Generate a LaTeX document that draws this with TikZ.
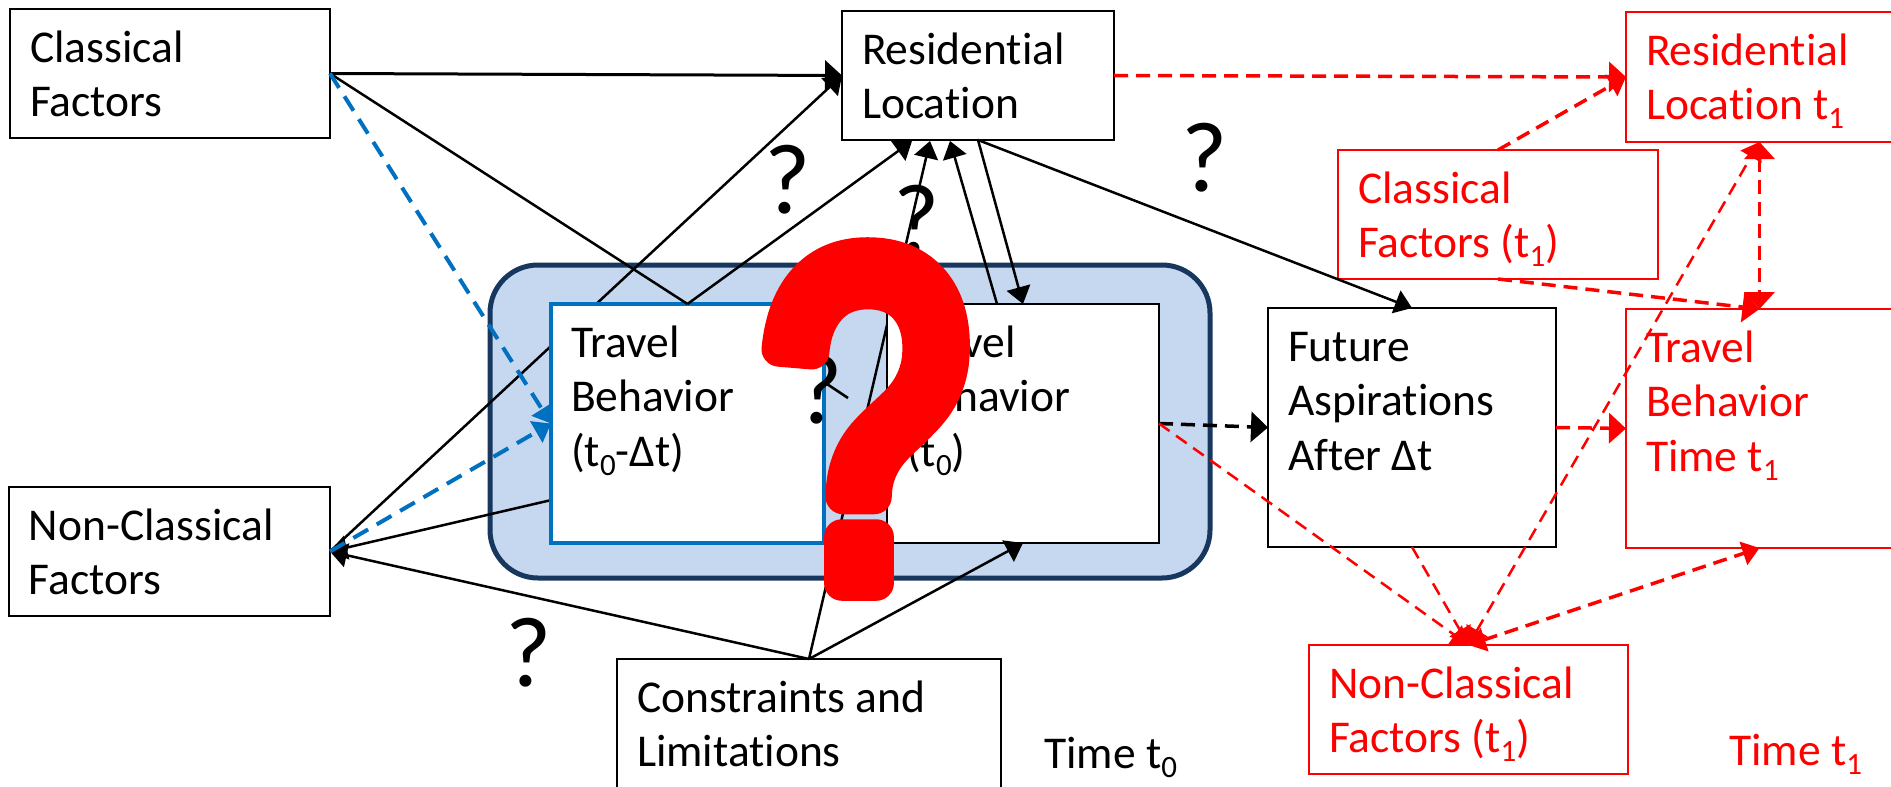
\documentclass[tikz,border=0pt]{standalone}
\usepackage{fontspec}
\setmainfont[Ligatures=NoCommon]{Carlito}
\newfontfamily\bigqfont[FakeBold=7.5,FakeStretch=0.77]{Liberation Sans}
\usetikzlibrary{arrows.meta}
\definecolor{panelfill}{HTML}{C5D8F0}
\definecolor{paneledge}{HTML}{17375E}
\definecolor{oldblue}{HTML}{0070C0}
\newcommand{\tsub}[1]{\raisebox{-9pt}{\fontsize{31}{31}\selectfont #1}}
\newcommand{\boxtext}[3]{\parbox[c][#2pt][t]{#1pt}{\fontsize{45.5}{54.5}\selectfont\raggedright\leftskip=20pt\vspace*{15pt}\strut #3}}
\tikzset{
  boxblack/.style={draw=black,fill=white,line width=2pt,inner sep=0pt,outer sep=0pt,anchor=north west},
  boxblue/.style={boxblack,draw=oldblue,line width=4pt},
  boxred/.style={boxblack,draw=red,text=red,line width=2.5pt},
  timelabel/.style={inner sep=0pt,anchor=base west,font=\fontsize{45.5}{54.5}\selectfont},
  query/.style={inner sep=0pt,font=\fontsize{100}{100}\selectfont},
  solid1/.style={line width=2.5pt},
  dash1/.style={line width=2.5pt,dash pattern=on 13pt off 8pt},
  dash2/.style={line width=3.5pt,dash pattern=on 14pt off 8pt},
  dash3/.style={line width=4pt,dash pattern=on 17pt off 10pt},
  bigtip/.style={>={Triangle[length=17pt,width=30pt]}},
}
\begin{document}
\begin{tikzpicture}[x=1pt,y=-1pt,>={Triangle[length=17pt,width=24pt]}]
\useasboundingbox (0,0) rectangle (1891,787);
\node[draw=paneledge,fill=panelfill,line width=5pt,rounded corners=48pt,minimum width=720pt,minimum height=313pt,inner sep=0pt,outer sep=0pt] (panel) at (850,421.5) {};
\coordinate (resA) at (912,141);
\coordinate (resB) at (930,141);
\coordinate (resC) at (950,141);
\coordinate (nowTop) at (997,304);
\coordinate (prevMid) at (848,398);
\coordinate (prevOut) at (560,498);
\coordinate (prevIn) at (824,382);
\node[boxblack] (residential) at (842,11) {\boxtext{272}{129}{Residential\\Location}};
\node[boxblack] (nonclassical) at (9,487) {\boxtext{321}{129}{Non-Classical\\Factors}};
\node[boxblack] (constraints) at (617,659) {\boxtext{384}{142}{Constraints and\\Limitations}};
\draw[solid1,->] (nonclassical.east) -- (residential.west);
\draw[solid1,->] (constraints.north) -- (resB);
\draw[solid1,->] (prevOut) -- (nonclassical.east);
\draw[solid1] (prevIn) -- (prevMid);
\node[boxblack] (classical) at (10,9) {\boxtext{320}{129}{Classical\\Factors}};
\node[boxblue] (travelold) at (551,304) {\boxtext{273}{239}{Travel\\Behavior\\(t\tsub{0}-Δt)}};
\node[boxblack] (travelnow) at (887,304) {\boxtext{272}{239}{Travel\\Behavior\\(t\tsub{0})}};
\node[boxblack] (future) at (1268,308) {\boxtext{288}{239}{Future\\Aspirations\\After Δt}};
\node[boxred] (resnext) at (1626,12) {\boxtext{267}{130}{Residential\\Location t\tsub{1}}};
\node[boxred] (classnext) at (1338,150) {\boxtext{320}{129}{Classical\\Factors (t\tsub{1})}};
\node[boxred] (travelnext) at (1626,309) {\boxtext{267}{239}{Travel\\Behavior\\Time t\tsub{1}}};
\node[boxred] (nonnext) at (1309,645) {\boxtext{319}{129}{Non-Classical\\Factors (t\tsub{1})}};
\draw[line width=3pt,bigtip,->] (classical.east) -- (residential.west);
\draw[solid1] (classical.east) -- (travelold.north);
\draw[solid1,->] (travelold.north) -- (resA);
\draw[solid1,->] (nowTop) -- (resC);
\draw[solid1,->] (residential.south) -- (travelnow.north);
\draw[solid1,->] (residential.south) -- (future.north);
\draw[solid1,->] (constraints.north) -- (nonclassical.east);
\draw[solid1,->] (constraints.north) -- (travelnow.south);
\draw[oldblue,dash3,->] (classical.east) -- (travelold.west);
\draw[oldblue,dash3,->] (nonclassical.east) -- (travelold.west);
\draw[dash2,bigtip,->] (travelnow.east) -- (future.west);
\draw[red,dash2,bigtip,->] (residential.east) -- (resnext.west);
\draw[red,dash2,->] (classnext.north) -- (resnext.west);
\draw[red,dash2,bigtip,->] (classnext.south) -- (travelnext.north);
\draw[red,dash2,bigtip,<->] (resnext.south) -- (travelnext.north);
\draw[red,dash2,bigtip,->] (future.east) -- (travelnext.west);
\draw[red,dash1,->] (travelnow.east) -- (nonnext.north);
\draw[red,dash1,->] (future.south) -- (nonnext.north);
\draw[red,dash1,<->] (nonnext.north) -- (resnext.south);
\draw[red,dash2,<->] (nonnext.north) -- (travelnext.south);
\node[timelabel] (timenow) at (1044,768) {Time t\tsub{0}};
\node[timelabel,text=red] (timenext) at (1729,765) {Time t\tsub{1}};
\node[query] (queryA) at (788,180) {?};
\node[query] (queryB) at (917,220) {?};
\node[query] (queryC) at (820,390) {?};
\node[query] (queryD) at (529,653) {?};
\node[query] (queryE) at (1205,158) {?};
\node[inner sep=0pt,text=red,line join=round,font=\fontsize{470}{470}\bigqfont] (bigquery) at (865,419) {?};
\end{tikzpicture}
\end{document}
